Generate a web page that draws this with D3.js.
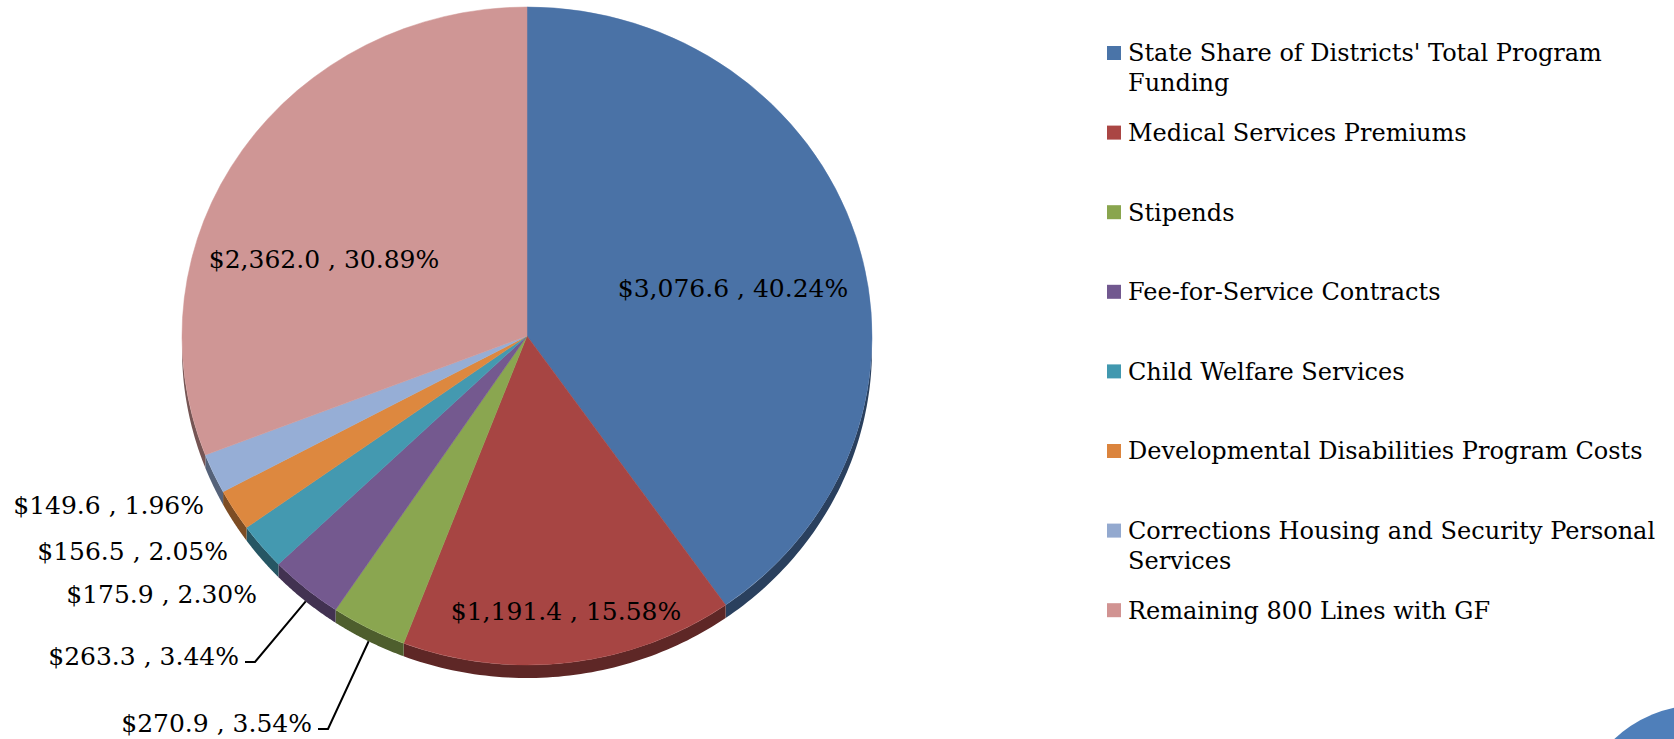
<!DOCTYPE html>
<html>
<head>
<meta charset="utf-8">
<script src="https://cdn.jsdelivr.net/npm/d3@7"></script>
<style>
  html, body { margin: 0; padding: 0; background: #ffffff; }
  svg { display: block; }
  text { font-family: "DejaVu Serif", "Liberation Serif", serif; fill: #000; }
</style>
</head>
<body>
<script>
// ---- data ----
const categories = [
  "State Share of Districts' Total Program Funding",
  "Medical Services Premiums",
  "Stipends",
  "Fee-for-Service Contracts",
  "Child Welfare Services",
  "Developmental Disabilities Program Costs",
  "Corrections Housing and Security Personal Services",
  "Remaining 800 Lines with GF"
];
const values = [3076.6, 1191.4, 270.9, 263.3, 175.9, 156.5, 149.6, 2362.0];
const percents = ["40.24%", "15.58%", "3.54%", "3.44%", "2.30%", "2.05%", "1.96%", "30.89%"];
const colors = ["#4A72A6", "#A74543", "#8AA650", "#74598F", "#4499B0", "#DD883F", "#96AED6", "#CF9695"];
const legendColors = ["#4A74A8", "#AA4644", "#89A54E", "#71588F", "#4198AF", "#DB843D", "#93A9CF", "#D19392"];

// ---- layout ----
const W = 1674, H = 739;
const cx = 527, cy = 336, rx = 345, ry = 329, depth = 13;
// label placement: [x, y, anchor, leader?]
const labelLayout = [
  [733, 288, "middle", false],
  [566, 611, "middle", false],
  [312, 723, "end", true],
  [239, 656, "end", true],
  [257, 594, "end", false],
  [228, 551, "end", false],
  [204, 505, "end", false],
  [324, 259, "middle", false]
];
const labelFont = 25;
const legendFont = 24;
const legendX = 1107, legendTextX = 1128, legendY0 = 53, legendStep = 79.6, legendLine = 30, legendMaxW = 540;

const svg = d3.select("body").append("svg").attr("width", W).attr("height", H);

// decorative circle bottom right
svg.append("circle").attr("cx", 1700).attr("cy", 830).attr("r", 125).attr("fill", "#4F7FBA");

const pie = d3.pie().sort(null).value(d => d)(values);
const arc = d3.arc().innerRadius(0).outerRadius(rx);

const ex = t => cx + rx * Math.sin(t);
const ey = t => cy - ry * Math.cos(t);

// side walls (3D edge)
const wallG = svg.append("g");
pie.forEach((p, i) => {
  const s = Math.max(p.startAngle, Math.PI / 2);
  const e = Math.min(p.endAngle, 3 * Math.PI / 2);
  if (s >= e) return;
  const n = 60;
  const pts = [];
  for (let k = 0; k <= n; k++) { const t = s + (e - s) * k / n; pts.push([ex(t), ey(t)]); }
  for (let k = n; k >= 0; k--) { const t = s + (e - s) * k / n; pts.push([ex(t), ey(t) + depth]); }
  const c = d3.color(colors[i]).darker(1.6);
  wallG.append("path")
    .attr("d", "M" + pts.map(q => q.join(",")).join("L") + "Z")
    .attr("fill", c.formatHex());
});

// top faces
const faceG = svg.append("g").attr("transform", `translate(${cx},${cy}) scale(1,${ry / rx})`);
faceG.selectAll("path").data(pie).join("path")
  .attr("d", arc)
  .attr("fill", (d, i) => colors[i])
  .attr("stroke", (d, i) => colors[i])
  .attr("stroke-width", 0.5);

// labels
const fmt = d3.format("$,.1f");
const labG = svg.append("g");
pie.forEach((p, i) => {
  const [x, y, anchor, leader] = labelLayout[i];
  labG.append("text")
    .attr("x", x).attr("y", y).attr("dy", "0.35em")
    .attr("text-anchor", anchor)
    .attr("font-size", labelFont)
    .text(fmt(values[i]) + " , " + percents[i]);
  if (leader) {
    const mid = (p.startAngle + p.endAngle) / 2;
    const px = ex(mid), py = ey(mid) + depth;
    const y0 = y + 6;
    labG.append("polyline")
      .attr("points", `${x + 6},${y0} ${x + 16},${y0} ${px},${py}`)
      .attr("fill", "none").attr("stroke", "#000").attr("stroke-width", 2);
  }
});

// legend
const legG = svg.append("g");
categories.forEach((c, i) => {
  const y = legendY0 + legendStep * i;
  legG.append("rect").attr("x", legendX).attr("y", y - 7).attr("width", 14).attr("height", 14)
    .attr("fill", legendColors[i]);
  const t = legG.append("text").attr("x", legendTextX).attr("y", y)
    .attr("font-size", legendFont);
  const words = c.split(" ");
  let line = [];
  let tspan = t.append("tspan").attr("x", legendTextX).attr("dy", "0.35em");
  words.forEach(w => {
    line.push(w);
    tspan.text(line.join(" "));
    if (tspan.node().getComputedTextLength() > legendMaxW && line.length > 1) {
      line.pop();
      tspan.text(line.join(" "));
      line = [w];
      tspan = t.append("tspan").attr("x", legendTextX).attr("dy", legendLine).text(w);
    }
  });
});
</script>
</body>
</html>
